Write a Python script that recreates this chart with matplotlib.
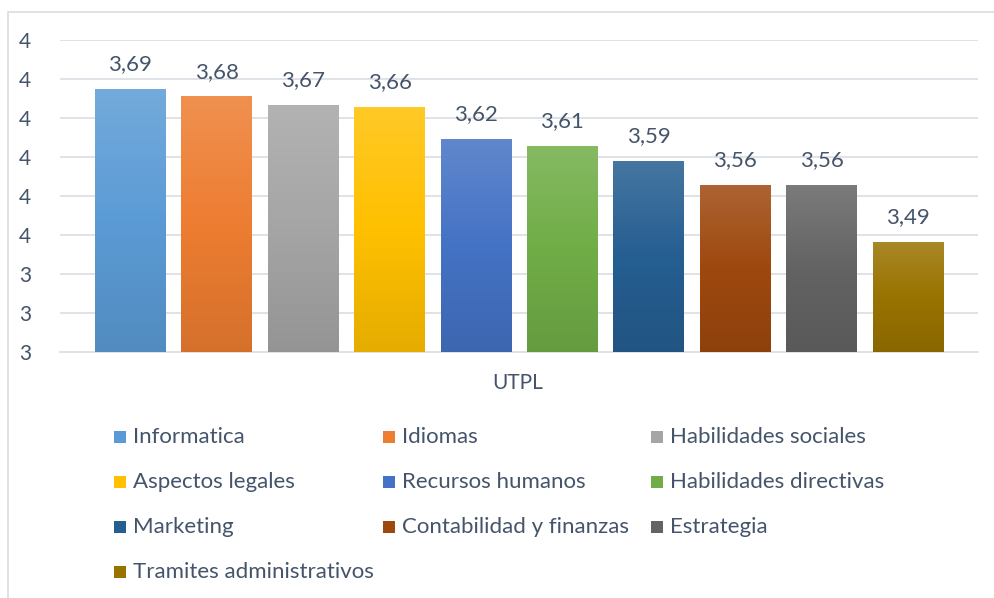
import numpy as np
import matplotlib.pyplot as plt
from matplotlib.colors import to_rgb
from matplotlib.patches import Rectangle

categories = ['Informatica', 'Idiomas', 'Habilidades sociales', 'Aspectos legales',
              'Recursos humanos', 'Habilidades directivas', 'Marketing',
              'Contabilidad y finanzas', 'Estrategia', 'Tramites administrativos']
values = [3.687, 3.677, 3.666, 3.663, 3.622, 3.613, 3.594, 3.563, 3.563, 3.491]
colors = ['#5B9BD5', '#ED7D31', '#A5A5A5', '#FFC000', '#4472C4',
          '#70AD47', '#255E91', '#9E480E', '#636363', '#997300']
group_label = 'UTPL'
ytick_values = [3.35, 3.40, 3.45, 3.50, 3.55, 3.60, 3.65, 3.70, 3.75]
ytick_labels = ['3', '3', '3', '4', '4', '4', '4', '4', '4']

text_color = '#44546A'
grid_color = '#DFE2E6'
plt.rcParams['font.family'] = ['Lato', 'DejaVu Sans']


def mix(c, other, t):
    c = np.array(to_rgb(c))
    return tuple(c * (1 - t) + np.array(other) * t)


def gradient(c):
    # light at top, base in the middle, darker at the bottom
    top = np.array(mix(c, (1, 1, 1), 0.15))
    mid = np.array(to_rgb(c))
    bot = np.array(mix(c, (0, 0, 0), 0.10))
    s = np.linspace(0, 1, 100)[:, None]
    col = np.where(s < 0.5, top + (mid - top) * (s / 0.5), mid + (bot - mid) * ((s - 0.5) / 0.5))
    return col[:, None, :]


fig = plt.figure(figsize=(9.95, 5.98), dpi=100)
ax = fig.add_axes([60 / 995, 1 - 352 / 598, 918 / 995, 312 / 598])

ind = np.arange(len(values))
width = 0.82
bars = ax.bar(ind, values, width, bottom=0, color=colors, zorder=2)
for rect, c in zip(bars, colors):
    x0 = rect.get_x()
    ax.imshow(gradient(c), extent=[x0, x0 + rect.get_width(), ytick_values[0], rect.get_height()],
              aspect='auto', zorder=3, interpolation='bilinear')
    ax.annotate(('%.2f' % rect.get_height()).replace('.', ','),
                (x0 + rect.get_width() / 2, rect.get_height()),
                xytext=(0, 11), textcoords='offset points',
                ha='center', va='bottom', fontsize=16, color=text_color)

ax.set_xlim(-0.815, 9.81)
ax.set_ylim(ytick_values[0], ytick_values[-1])
ax.set_yticks(ytick_values)
ax.set_yticklabels(ytick_labels, fontsize=15, color=text_color)
ax.tick_params(axis='y', length=0, pad=21)
ax.set_xticks([])
ax.yaxis.grid(True, color=grid_color, linewidth=1.4, zorder=0)
ax.set_axisbelow(True)
for s in ['left', 'right', 'top']:
    ax.spines[s].set_visible(False)
ax.spines['bottom'].set_color(grid_color)
ax.spines['bottom'].set_linewidth(1.4)

fig.text(518 / 995, 1 - 383 / 598, group_label, ha='center', va='center',
         fontsize=15, color=text_color)

# legend, row-major in 3 columns
col_x = [114, 383, 651]
row_y = [437, 482, 527, 572]
for i, (name, c) in enumerate(zip(categories, colors)):
    px = col_x[i % 3]
    py = row_y[i // 3]
    fig.patches.append(Rectangle((px / 995, 1 - (py + 6) / 598), 12 / 995, 12 / 598,
                                 transform=fig.transFigure, facecolor=c, edgecolor='none'))
    fig.text((px + 19) / 995, 1 - py / 598, name, ha='left', va='center',
             fontsize=16, color=text_color)

# chart border
fig.patches.append(Rectangle((8 / 995, -0.1), 1.2, 1 - 12 / 598 + 0.1,
                             transform=fig.transFigure, facecolor='none',
                             edgecolor='#D9DCE0', linewidth=1.2))

plt.savefig('out.png', dpi=100, facecolor='w')
